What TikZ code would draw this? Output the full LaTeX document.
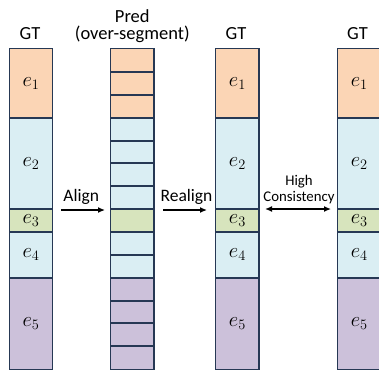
\documentclass[tikz,border=0pt]{standalone}
\usepackage[no-math]{fontspec}
\setmainfont{Carlito}
\usetikzlibrary{arrows.meta}

\definecolor{segorange}{RGB}{251,213,181}
\definecolor{segblue}{RGB}{218,238,243}
\definecolor{seggreen}{RGB}{215,228,189}
\definecolor{segpurple}{RGB}{204,193,218}
\definecolor{segedge}{RGB}{38,56,84}

\tikzset{
  cell/.style={rectangle, inner sep=0pt, font=\fontsize{22}{26}\selectfont},
  cellborder/.style={draw=segedge, line width=1.3pt},
  head/.style={font=\fontsize{18.5}{21}\selectfont, inner sep=0pt, anchor=base},
  armlabel/.style={font=\fontsize{17.5}{20}\selectfont, inner sep=0pt, anchor=base},
  smalllabel/.style={font=\fontsize{14.8}{17}\selectfont, inner sep=0pt, anchor=base},
  flow/.style={line width=1.3pt, -{Latex[length=7pt,width=6pt]}},
  bothflow/.style={line width=1.3pt, {Latex[length=7pt,width=6pt]}-{Latex[length=7pt,width=6pt]}},
}

% one cell of a column: name, x-left, x-right, y-top, y-bottom, fill, text
\newcommand{\segcell}[7]{%
  \node[cell, fill=#6, minimum width=#3pt-#2pt, minimum height=#5pt-#4pt]
    (#1) at ({(#2+#3)/2}, {-(#4+#5)/2}) {#7};}

\begin{document}
\begin{tikzpicture}[x=1pt, y=1pt]
\useasboundingbox (0,0) rectangle (379,-370);
\begin{scope}
\clip (0,0) rectangle (379,-370);

% ground-truth column (left)
\segcell{ga1}{10}{52}{49}{118}{segorange}{$e_1$}
\segcell{ga2}{10}{52}{118}{209.3}{segblue}{$e_2$}
\segcell{ga3}{10}{52}{209.3}{231.7}{seggreen}{$e_3$}
\segcell{ga4}{10}{52}{231.7}{277.7}{segblue}{$e_4$}
\segcell{ga5}{10}{52}{277.7}{369}{segpurple}{$e_5$}

% over-segmented prediction
\segcell{p1}{111}{153.7}{49}{72}{segorange}{}
\segcell{p2}{111}{153.7}{72}{95.3}{segorange}{}
\segcell{p3}{111}{153.7}{95.3}{118}{segorange}{}
\segcell{p4}{111}{153.7}{118}{140.7}{segblue}{}
\segcell{p5}{111}{153.7}{140.7}{163.3}{segblue}{}
\segcell{p6}{111}{153.7}{163.3}{186}{segblue}{}
\segcell{p7}{111}{153.7}{186}{209.3}{segblue}{}
\segcell{p8}{111}{153.7}{209.3}{231.7}{seggreen}{}
\segcell{p9}{111}{153.7}{231.7}{254.7}{segblue}{}
\segcell{p10}{111}{153.7}{254.7}{277.7}{segblue}{}
\segcell{p11}{111}{153.7}{277.7}{300.7}{segpurple}{}
\segcell{p12}{111}{153.7}{300.7}{323}{segpurple}{}
\segcell{p13}{111}{153.7}{323}{346}{segpurple}{}
\segcell{p14}{111}{153.7}{346}{369}{segpurple}{}

% realigned ground truth
\segcell{gb1}{216}{258.7}{49}{118}{segorange}{$e_1$}
\segcell{gb2}{216}{258.7}{118}{209.3}{segblue}{$e_2$}
\segcell{gb3}{216}{258.7}{209.3}{231.7}{seggreen}{$e_3$}
\segcell{gb4}{216}{258.7}{231.7}{277.7}{segblue}{$e_4$}
\segcell{gb5}{216}{258.7}{277.7}{369}{segpurple}{$e_5$}

% reference ground truth (right)
\segcell{gc1}{337.5}{381}{49}{118}{segorange}{$e_1$}
\segcell{gc2}{337.5}{381}{118}{209.3}{segblue}{$e_2$}
\segcell{gc3}{337.5}{381}{209.3}{231.7}{seggreen}{$e_3$}
\segcell{gc4}{337.5}{381}{231.7}{277.7}{segblue}{$e_4$}
\segcell{gc5}{337.5}{381}{277.7}{369}{segpurple}{$e_5$}

% outlines on top of all fills, so shared edges keep full width
\foreach \c in {ga1,ga2,ga3,ga4,ga5,p1,p2,p3,p4,p5,p6,p7,p8,p9,p10,p11,p12,p13,p14,
                gb1,gb2,gb3,gb4,gb5,gc1,gc2,gc3,gc4,gc5}
  \draw[cellborder] (\c.north west) rectangle (\c.south east);
\end{scope}

% column headings
\node[head] (hga) at (30,-39.3) {GT};
\node[head, text depth=0pt] (hp1) at (132.3,-22.8) {Pred};
\node[head] (hp2) at (132.3,-39.5) {(over-segment)};
\node[head] (hgb) at (236,-39.3) {GT};
\node[head] (hgc) at (357.5,-39.3) {GT};

% arrows between the columns
\coordinate (a1s) at (61,-210);
\coordinate (a1e) at (105,-210);
\coordinate (a2s) at (163,-210);
\coordinate (a2e) at (207,-210);
\coordinate (a3s) at (265,-209);
\coordinate (a3e) at (331,-209);
\draw[flow] (a1s) -- (a1e);
\draw[flow] (a2s) -- (a2e);
\draw[bothflow] (a3s) -- (a3e);

\node[armlabel] (lalign) at (81.2,-201.5) {Align};
\node[armlabel] (lrealign) at (186.5,-201.5) {Realign};
\node[smalllabel] (lhigh) at (299,-185) {High};
\node[smalllabel] (lcons) at (299,-201.7) {Consistency};
\end{tikzpicture}
\end{document}
